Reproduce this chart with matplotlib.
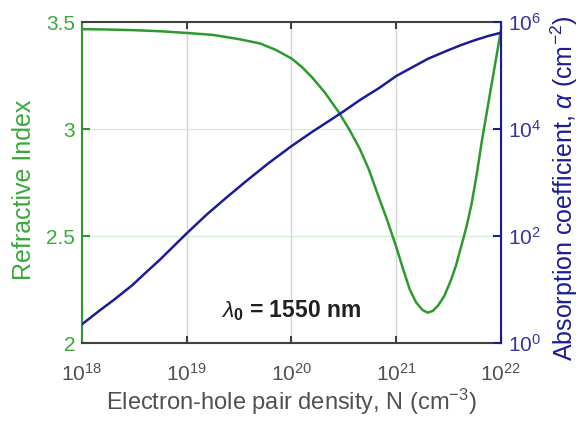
import numpy as np
import matplotlib
matplotlib.use("Agg")
import matplotlib.pyplot as plt

plt.rcParams['font.family'] = ['Liberation Sans', 'DejaVu Sans']
plt.rcParams['mathtext.fontset'] = 'custom'
plt.rcParams['mathtext.rm'] = 'Liberation Sans'
plt.rcParams['mathtext.it'] = 'Liberation Sans:italic'
plt.rcParams['mathtext.bf'] = 'Liberation Sans:bold'

# --- data (log10 of carrier density) ---
logN_index = [18.0, 18.25, 18.5, 18.75, 19.0, 19.25, 19.5, 19.7, 19.85, 20.0,
              20.1, 20.2, 20.32, 20.45, 20.55, 20.65, 20.74, 20.82, 20.91, 21.0,
              21.07, 21.13, 21.19, 21.25, 21.3, 21.35, 21.4, 21.46, 21.52, 21.57,
              21.62, 21.67, 21.72, 21.77, 21.82, 21.88, 21.94, 22.0]
refr_index = [3.467, 3.465, 3.462, 3.457, 3.449, 3.44, 3.42, 3.40, 3.37, 3.33,
              3.29, 3.24, 3.17, 3.08, 3.0, 2.91, 2.81, 2.70, 2.58, 2.45,
              2.34, 2.25, 2.19, 2.155, 2.142, 2.15, 2.175, 2.22, 2.29, 2.36,
              2.45, 2.54, 2.65, 2.79, 2.95, 3.12, 3.29, 3.46]

logN_alpha = [18.0, 18.17, 18.3, 18.48, 18.6, 18.74, 18.87, 19.0, 19.19, 19.38,
              19.57, 19.78, 20.0, 20.2, 20.35, 20.49, 20.66, 20.84, 21.0, 21.15,
              21.3, 21.48, 21.62, 21.75, 21.88, 22.0]
log_alpha = [0.35, 0.61, 0.80, 1.08, 1.30, 1.55, 1.80, 2.05, 2.40, 2.72,
             3.03, 3.36, 3.68, 3.95, 4.14, 4.32, 4.55, 4.77, 4.99, 5.15,
             5.31, 5.46, 5.57, 5.66, 5.74, 5.80]

x_ticks = [1e18, 1e19, 1e20, 1e21, 1e22]
x_ticklabels = ['$10^{18}$', '$10^{19}$', '$10^{20}$', '$10^{21}$', '$10^{22}$']
n_ticks = [2, 2.5, 3, 3.5]
n_ticklabels = ['2', '2.5', '3', '3.5']
a_ticks = [1, 1e2, 1e4, 1e6]
a_ticklabels = ['$10^{0}$', '$10^{2}$', '$10^{4}$', '$10^{6}$']

green = '#2e9a2e'
green_txt = '#3aa83a'
blue = '#1c1c96'
blue_txt = '#3636a0'
dark = '#404040'

fig = plt.figure(figsize=(5.79, 4.24), dpi=100)
ax = fig.add_axes([0.1416, 0.191, 0.7235, 0.757])
ax2 = ax.twinx()

N_i = 10.0 ** np.array(logN_index)
N_a = 10.0 ** np.array(logN_alpha)
alpha = 10.0 ** np.array(log_alpha)

ax.plot(N_i, refr_index, color=green, lw=1.8, zorder=3)
ax2.plot(N_a, alpha, color=blue, lw=1.8)

ax.set_xscale('log')
ax.set_xlim(1e18, 1e22)
ax.set_ylim(2, 3.5)
ax.set_yticks(n_ticks)
ax.set_yticklabels(n_ticklabels)
ax.set_xticks(x_ticks)
ax.set_xticklabels(x_ticklabels)
ax.minorticks_off()

ax2.set_yscale('log')
ax2.set_ylim(1, 1e6)
ax2.set_yticks(a_ticks)
ax2.set_yticklabels(a_ticklabels)
ax2.minorticks_off()

# grid: grey vertical, light green horizontal
for xv in x_ticks[1:-1]:
    ax.axvline(xv, color='#d4d4d4', lw=1.0, zorder=0)
for yv in n_ticks[1:-1]:
    ax.axhline(yv, color='#d6ecd6', lw=1.0, zorder=0)

ax.tick_params(axis='x', direction='in', length=5, width=1.5, colors=dark,
               labelcolor='#505050', labelsize=15, top=True, pad=14)
ax.tick_params(axis='y', direction='in', length=6, width=1.5, colors=green,
               labelcolor=green_txt, labelsize=15, pad=5)
ax2.tick_params(axis='y', direction='in', length=6, width=1.5, colors=blue,
                labelcolor=blue_txt, labelsize=15, pad=5)
ax2.tick_params(axis='x', top=False)

for sp in ['top', 'bottom']:
    ax.spines[sp].set_color(dark)
    ax.spines[sp].set_linewidth(1.5)
    ax.spines[sp].set_zorder(5)
ax.spines['left'].set_color(green)
ax.spines['left'].set_linewidth(1.5)
ax2.spines['right'].set_color(blue)
ax2.spines['right'].set_linewidth(1.5)
for sp in ['left', 'top', 'bottom']:
    ax2.spines[sp].set_visible(False)

ax.set_xlabel('Electron-hole pair density, N (cm$^{-3}$)', fontsize=17,
              color='#505050')
ax.xaxis.set_label_coords(0.5, -0.135)
ax.set_ylabel('Refractive Index', fontsize=18, color=green_txt)
ax.yaxis.set_label_coords(-0.11, 0.477)
ax2.set_ylabel(r'Absorption coefficient, $\alpha$ (cm$^{-2}$)', fontsize=18,
               color=blue)
ax2.yaxis.set_label_coords(1.115, 0.483)

ax.text(10 ** 20.0, 2.15, r'$\lambda_\mathbf{0}$ = 1550 nm', fontsize=16.5,
        fontweight='bold', ha='center', va='center', color='#202020')

fig.savefig('out.png', dpi=100)
